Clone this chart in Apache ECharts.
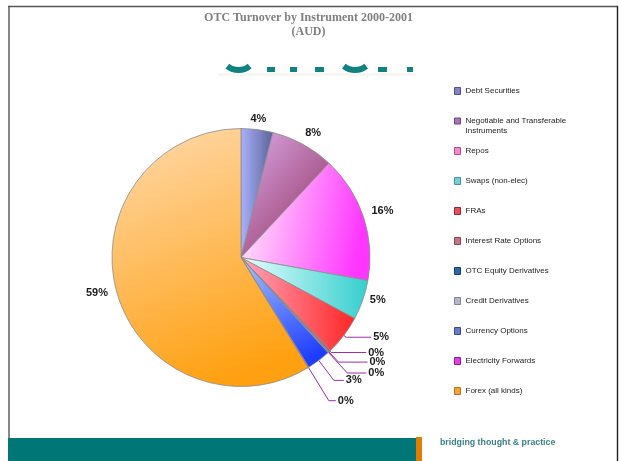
<!DOCTYPE html>
<html>
<head>
<meta charset="utf-8">
<script src="https://cdn.jsdelivr.net/npm/echarts@6/dist/echarts.min.js"></script>
<style>
  html, body { margin: 0; padding: 0; background: #fff; }
  #chart { width: 619px; height: 461px; }
</style>
</head>
<body>
<div id="chart"></div>
<script>
// OTC turnover split by instrument, 2000-2001 (AUD), in percent
const instruments = [
  'Debt Securities',
  'Negotiable and Transferable Instruments',
  'Repos',
  'Swaps (non-elec)',
  'FRAs',
  'Interest Rate Options',
  'OTC Equity Derivatives',
  'Credit Derivatives',
  'Currency Options',
  'Electricity Forwards',
  'Forex (all kinds)'
];
const turnoverShare = [4, 8, 16, 5, 5, 0.2, 0.1, 0.1, 3, 0.1, 59];

const titleLines = ['OTC Turnover by Instrument 2000-2001', '(AUD)'];
const footerText = 'bridging thought & practice';
const wrappedName = 'Negotiable and Transferable Instruments';

// slice fills: [light, dark, gradient x2, gradient y2]
const sliceFill = [
  ['#aab2ff', '#5a6296', 1, 0],
  ['#dcaaea', '#9e4676', 1, 0.6],
  ['#fff2f8', '#ff36ff', 1, 0.2],
  ['#eaffff', '#34cece', 1, 0],
  ['#ffa6bc', '#ff2626', 1, 0],
  ['#c46c8c', '#b05878', 1, 0],
  ['#3a7aa8', '#205c8c', 1, 0],
  ['#c0c4dc', '#a8acc8', 1, 0],
  ['#a8c4ff', '#1c3cff', 0.6, 1],
  ['#e848e8', '#d030d0', 1, 0],
  ['#ffdaae', '#ffa010', 0.5, 1]
];
const legendFill = ['#8484c4', '#a676b6', '#f08cc8', '#7ccad2', '#e2505e', '#c27684',
                    '#2c68a6', '#b4b6cc', '#6c7cc4', '#e040e0', '#f2a43a'];
const legendEdge = ['#505090', '#704080', '#c04890', '#3c9aa2', '#a02030', '#904050',
                    '#143c70', '#8082a0', '#3848a0', '#a010a0', '#c07010'];
// label guide: [line visible, length, length2]
const guide = [
  [false, 10.6, 0], [false, 13, 4], [false, 20, 0], [false, 1, 14],
  [true, 3, 25], [true, 2, 35], [true, 14, 29], [true, 28, 19],
  [true, 25, 10], [true, 39, 7], [false, 3, 17]
];

function fill(i) {
  const f = sliceFill[i];
  return new echarts.graphic.LinearGradient(0, 0, f[2], f[3], [
    { offset: 0, color: f[0] }, { offset: 1, color: f[1] }
  ]);
}

const pieData = instruments.map((name, i) => ({
  name: name,
  value: turnoverShare[i],
  itemStyle: { color: fill(i) },
  label: { distanceToLabelLine: guide[i][0] ? 2 : 0 },
  labelLine: { show: guide[i][0], length: guide[i][1], length2: guide[i][2] }
}));

function legendItem(i) {
  return {
    name: instruments[i],
    itemStyle: { color: legendFill[i], borderColor: legendEdge[i], borderWidth: 1 }
  };
}

const legendBase = {
  orient: 'vertical',
  left: 454,
  padding: 0,
  itemGap: 20,
  itemWidth: 6,
  itemHeight: 7,
  icon: 'rect',
  selectedMode: false,
  textStyle: {
    fontFamily: 'Liberation Sans',
    fontSize: 8,
    lineHeight: 10,
    color: '#222222'
  }
};

const chart = echarts.init(document.getElementById('chart'), null, { renderer: 'canvas' });

chart.setOption({
  animation: false,
  backgroundColor: '#ffffff',
  title: {
    text: titleLines.join('\n'),
    left: 308.5,
    textAlign: 'center',
    top: 11,
    padding: 0,
    textStyle: {
      fontFamily: 'Liberation Serif',
      fontWeight: 'bold',
      fontSize: 12,
      lineHeight: 14,
      color: '#808080'
    }
  },
  legend: [
    Object.assign({}, legendBase, { top: 86, data: [legendItem(0)] }),
    // wrapped entry: the swatch sits level with the first text line
    Object.assign({}, legendBase, {
      top: 116,
      itemHeight: 17,
      icon: 'path://M0,0h6v6h-6zM0,16h0.001',
      data: [legendItem(1)],
      formatter: () => 'Negotiable and Transferable\nInstruments'
    }),
    Object.assign({}, legendBase, {
      top: 146,
      data: instruments.slice(2).map((n, k) => legendItem(k + 2))
    })
  ],
  graphic: [
    // page frame
    { type: 'line', shape: { x1: 8, y1: 6.5, x2: 618, y2: 6.5 }, style: { stroke: '#555', lineWidth: 1.6 } },
    { type: 'line', shape: { x1: 9, y1: 6, x2: 9, y2: 461 }, style: { stroke: '#555', lineWidth: 1.4 } },
    { type: 'line', shape: { x1: 617.5, y1: 6, x2: 617.5, y2: 461 }, style: { stroke: '#222', lineWidth: 1.4 } },
    // lower edge of the banner lettering
    { type: 'rect', shape: { x: 218, y: 73, width: 198, height: 3 }, style: { fill: '#f9f5f0' } },
    { type: 'arc', shape: { cx: 238.5, cy: 52, r: 18, startAngle: 0.9, endAngle: 2.24 }, style: { stroke: '#108282', lineWidth: 6, fill: null } },
    { type: 'rect', shape: { x: 267, y: 67, width: 8, height: 5 }, style: { fill: '#108282' } },
    { type: 'rect', shape: { x: 290, y: 67, width: 7, height: 5 }, style: { fill: '#108282' } },
    { type: 'rect', shape: { x: 315, y: 67, width: 9, height: 5 }, style: { fill: '#108282' } },
    { type: 'arc', shape: { cx: 355, cy: 52, r: 18, startAngle: 0.9, endAngle: 2.24 }, style: { stroke: '#108282', lineWidth: 6, fill: null } },
    { type: 'rect', shape: { x: 378, y: 67, width: 9, height: 5 }, style: { fill: '#108282' } },
    { type: 'rect', shape: { x: 407, y: 67, width: 6, height: 5 }, style: { fill: '#108282' } },
    // footer band
    { type: 'rect', shape: { x: 8, y: 438, width: 408, height: 23 }, style: { fill: '#007676' } },
    { type: 'rect', shape: { x: 416, y: 437, width: 6, height: 24 }, style: { fill: '#e07e00' } },
    {
      type: 'text', x: 440, y: 443,
      style: {
        text: footerText, fill: '#3a8288', font: 'bold 8.8px "Liberation Sans"',
        verticalAlign: 'middle', align: 'left'
      }
    }
  ],
  series: [{
    type: 'pie',
    center: [241, 257.5],
    radius: 129,
    startAngle: 90,
    clockwise: true,
    avoidLabelOverlap: false,
    silent: true,
    itemStyle: { borderColor: '#8c8c8c', borderWidth: 0.8 },
    label: {
      show: true,
      position: 'outside',
      alignTo: 'none',
      formatter: p => Math.round(p.value) + '%',
      fontFamily: 'Liberation Sans',
      fontWeight: 'bold',
      fontSize: 11,
      color: '#1a1a1a'
    },
    labelLine: {
      lineStyle: { color: '#9a2ea8', width: 1 },
      smooth: false
    },
    labelLayout: p => (guide[p.dataIndex][0] ? {} : { align: 'center' }),
    data: pieData
  }]
});
</script>
</body>
</html>
